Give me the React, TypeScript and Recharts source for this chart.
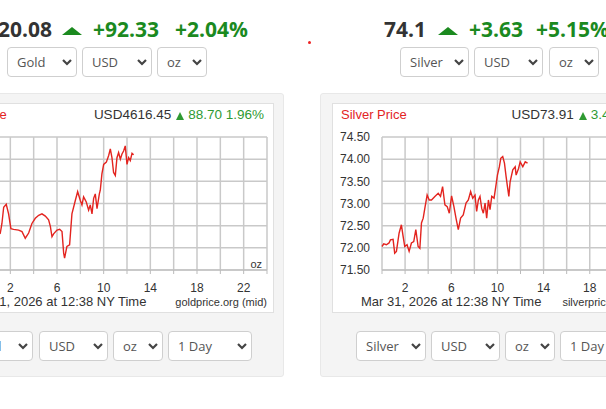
import React from "react";
import { LineChart, Line, XAxis, YAxis, CartesianGrid } from "recharts";

// ── Data (hours since midnight NY, price per oz) ─────────────────────────────
const HOUR_TICKS = [0, 2, 4, 6, 8, 10, 12, 14, 16, 18, 20, 22, 24];

const goldHours = [
  0.5, 1.14, 1.28, 1.43, 1.65, 1.85, 2.05, 2.28, 2.71, 3.0, 3.28, 3.57, 3.85, 4.14, 4.43, 4.71,
  5.0, 5.28, 5.43, 5.57, 5.71, 6.0, 6.23, 6.43, 6.57, 6.65, 6.85, 7.08, 7.28, 7.57, 7.77, 8.0,
  8.14, 8.28, 8.51, 8.71, 8.85, 9.0, 9.14, 9.28, 9.43, 9.63, 9.71, 9.85, 10.0, 10.23, 10.43,
  10.57, 10.71, 10.85, 11.0, 11.14, 11.28, 11.43, 11.57, 11.71, 11.85, 12.0, 12.14, 12.28, 12.43, 12.57,
];
const goldPrices = [
  4518, 4510, 4523, 4545, 4549, 4536, 4516, 4515, 4514, 4512, 4503, 4510, 4523, 4530, 4534, 4536,
  4533, 4528, 4519, 4505, 4509, 4514, 4515, 4512, 4483, 4476, 4492, 4494, 4536, 4554, 4566, 4554,
  4548, 4559, 4552, 4541, 4548, 4536, 4557, 4563, 4543, 4563, 4568, 4590, 4603, 4606, 4615,
  4624, 4612, 4592, 4588, 4612, 4619, 4610, 4617, 4621, 4628, 4603, 4612, 4608, 4618, 4616,
];
const goldTicks = [4460, 4490, 4520, 4550, 4580, 4610, 4640];

const silverHours = [
  0, 0.15, 0.38, 0.61, 0.73, 0.96, 1.1, 1.25, 1.48, 1.68, 1.83, 1.97, 2.17, 2.35, 2.55, 2.75,
  2.93, 3.13, 3.28, 3.42, 3.57, 3.71, 3.91, 4.09, 4.29, 4.58, 4.87, 5.07, 5.25, 5.45, 5.65, 5.83,
  6.03, 6.23, 6.41, 6.61, 6.81, 7.04, 7.28, 7.48, 7.68, 7.86, 8.06, 8.2, 8.35, 8.49, 8.64, 8.78,
  8.93, 9.07, 9.22, 9.36, 9.51, 9.71, 9.88, 10.0, 10.17, 10.29, 10.46, 10.61, 10.75, 10.87, 10.99,
  11.1, 11.33, 11.54, 11.62, 11.83, 11.97, 12.2, 12.41, 12.61,
];
const silverPrices = [
  72.03, 72.09, 72.07, 72.11, 72.18, 72.19, 71.88, 71.92, 72.33, 72.52, 72.26, 72.03, 72.07, 71.92, 72.11, 72.14,
  72.41, 72.03, 71.99, 72.56, 72.67, 72.89, 73.19, 73.08, 73.08, 73.16, 73.23, 73.16, 73.38, 72.97, 72.93, 72.78,
  73.17, 72.93, 72.67, 72.41, 72.67, 72.74, 73.01, 73.08, 73.27, 73.12, 73.19, 72.82, 73.08, 73.16, 72.89, 72.78,
  73.01, 72.67, 73.08, 72.86, 73.16, 73.12, 73.42, 73.64, 73.83, 74.02, 74.06, 73.91, 73.61, 73.38, 73.16,
  73.49, 73.76, 73.83, 73.64, 73.79, 73.94, 73.83, 73.94, 73.91,
];
const silverTicks = [71.5, 72, 72.5, 73, 73.5, 74, 74.5];

const DATE_TEXT = "Mar 31, 2026 at 12:38 NY Time";

// ── Styling ──────────────────────────────────────────────────────────────────
const RED = "#e3241f";
const GREEN_BIG = "#1b8a1f";
const GREEN = "#2f9a32";
const GRID = "#c9c9c9";
const CHART_FONT = "'Liberation Sans', Arial, sans-serif";
const PAGE_FONT = "'Open Sans', sans-serif";

function Chevron() {
  return (
    <svg style={{ position: "absolute", right: 4, top: 11 }} width={10} height={7}>
      <polyline points="1,1 5,5 9,1" fill="none" stroke="#444" strokeWidth={2.2} />
    </svg>
  );
}

function Select({ left, top, width, label }: { left: number; top: number; width: number; label: string }) {
  return (
    <div
      style={{
        position: "absolute", left, top, width, height: 30, boxSizing: "border-box",
        border: "1px solid #cfcfcf", borderRadius: 4, background: "#fff",
        fontFamily: PAGE_FONT, fontSize: 13, color: "#555", lineHeight: "28px", paddingLeft: 9,
      }}
    >
      {label}
      <Chevron />
    </div>
  );
}

// CSS triangle, absolutely placed
function Tri({ left, top, w, h, color }: { left: number; top: number; w: number; h: number; color: string }) {
  return (
    <div
      style={{
        position: "absolute", left, top, width: 0, height: 0,
        borderLeft: `${w / 2}px solid transparent`, borderRight: `${w / 2}px solid transparent`,
        borderBottom: `${h}px solid ${color}`,
      }}
    />
  );
}

// same triangle, but sitting in the text flow on the baseline
function InlineTri() {
  return (
    <span
      style={{
        display: "inline-block", width: 0, height: 0, margin: "0 4px 0 5px", verticalAlign: "-1px",
        borderLeft: "4.5px solid transparent", borderRight: "4.5px solid transparent",
        borderBottom: `8px solid ${GREEN}`,
      }}
    />
  );
}

const big: React.CSSProperties = {
  position: "absolute", top: 19, fontFamily: PAGE_FONT, fontWeight: 700,
  fontSize: 21, lineHeight: "21px", whiteSpace: "nowrap",
};

interface ChartProps {
  left: number;
  plotWidth: number;
  title: string;
  quote: string;
  change: string;
  source: string;
  hours: number[];
  prices: number[];
  ticks: number[];
  fmt: (v: number) => string;
}

function MetalChart({ left, plotWidth, title, quote, change, source, hours, prices, ticks, fmt }: ChartProps) {
  const data = hours.map((h, i) => ({ h, p: prices[i] }));
  const axisW = 49;
  const boxW = 337;
  const chartW = axisW + plotWidth + 4;
  const tickStyle = { fill: "#333", fontSize: 12, fontFamily: CHART_FONT };
  return (
    <div
      style={{
        position: "absolute", left, top: 103, width: boxW, height: 210, boxSizing: "border-box",
        background: "#fff", border: "1px solid #e0e0e0",
      }}
    >
      <div style={{ position: "absolute", left: 8, top: 3, fontFamily: CHART_FONT, fontSize: 13, lineHeight: "16px", color: RED }}>
        {title}
      </div>
      <div style={{ position: "absolute", right: 9, top: 3, fontFamily: CHART_FONT, fontSize: 13.5, lineHeight: "16px", color: "#333", whiteSpace: "nowrap" }}>
        {quote}
        <InlineTri />
        <span style={{ color: GREEN }}>{change}</span>
      </div>

      <div style={{ position: "absolute", left: 0, top: 0 }}>
        <LineChart width={chartW} height={189} data={data} margin={{ top: 33, right: 4, bottom: 0, left: 0 }}>
          <CartesianGrid stroke={GRID} strokeWidth={1.5} />
          <XAxis
            dataKey="h"
            type="number"
            domain={[0, 24]}
            ticks={HOUR_TICKS}
            interval={0}
            tickFormatter={(v: number) => ((v - 2) % 4 === 0 ? String(v) : "")}
            height={23}
            tickSize={4}
            tickMargin={9}
            stroke="#bbb"
            tick={tickStyle}
          />
          <YAxis
            type="number"
            domain={[ticks[0], ticks[ticks.length - 1]]}
            ticks={ticks}
            interval={0}
            tickFormatter={fmt}
            width={axisW}
            axisLine={false}
            tickLine={false}
            tickSize={0}
            tickMargin={12}
            tick={tickStyle}
          />
          <Line
            type="linear"
            dataKey="p"
            stroke={RED}
            strokeWidth={1.4}
            dot={false}
            isAnimationActive={false}
          />
        </LineChart>
      </div>

      <div style={{ position: "absolute", left: axisW + plotWidth - 40, width: 35, textAlign: "right", top: 153, fontFamily: CHART_FONT, fontSize: 11, lineHeight: "14px", color: "#333" }}>
        oz
      </div>
      <div style={{ position: "absolute", left: axisW - 21, top: 190, fontFamily: CHART_FONT, fontSize: 13, lineHeight: "16px", color: "#333", whiteSpace: "nowrap" }}>
        {DATE_TEXT}
      </div>
      <div style={{ position: "absolute", left: axisW + plotWidth - 200, width: 200, textAlign: "right", top: 191, fontFamily: CHART_FONT, fontSize: 11, lineHeight: "14px", color: "#333", whiteSpace: "nowrap" }}>
        {source}
      </div>
    </div>
  );
}

export default function App() {
  return (
    <div style={{ position: "fixed", left: 0, top: 0, width: 606, height: 409, overflow: "hidden", background: "#fff" }}>
      {/* Gold header */}
      <span style={{ ...big, right: 554, color: "#333" }}>4620.08</span>
      <Tri left={62} top={27} w={20} h={8} color={GREEN_BIG} />
      <span style={{ ...big, left: 93, color: GREEN_BIG }}>+92.33</span>
      <span style={{ ...big, left: 175, color: GREEN_BIG }}>+2.04%</span>
      <Select left={7} top={47} width={70} label="Gold" />
      <Select left={82} top={47} width={70} label="USD" />
      <Select left={157} top={47} width={50} label="oz" />

      <div style={{ position: "absolute", left: 308, top: 41, width: 3, height: 3, borderRadius: 2, background: "#e22" }} />

      {/* Silver header */}
      <span style={{ ...big, left: 384, color: "#333" }}>74.1</span>
      <Tri left={438} top={27} w={20} h={8} color={GREEN_BIG} />
      <span style={{ ...big, left: 469, color: GREEN_BIG }}>+3.63</span>
      <span style={{ ...big, left: 536, color: GREEN_BIG }}>+5.15%</span>
      <Select left={400} top={47} width={69} label="Silver" />
      <Select left={474} top={47} width={69} label="USD" />
      <Select left={549} top={47} width={50} label="oz" />

      {/* Panels */}
      <div style={{ position: "absolute", left: -20, top: 93, width: 304, height: 284, boxSizing: "border-box", background: "#f4f4f4", border: "1px solid #e8e8e8", borderRadius: 3 }} />
      <div style={{ position: "absolute", left: 320, top: 93, width: 320, height: 284, boxSizing: "border-box", background: "#f4f4f4", border: "1px solid #e8e8e8", borderRadius: 3 }} />

      <MetalChart
        left={-63}
        plotWidth={280}
        title="Gold Price"
        quote="USD4616.45"
        change="88.70 1.96%"
        source="goldprice.org (mid)"
        hours={goldHours}
        prices={goldPrices}
        ticks={goldTicks}
        fmt={(v) => v.toFixed(0)}
      />
      <MetalChart
        left={332}
        plotWidth={277}
        title="Silver Price"
        quote="USD73.91"
        change="3.44 4.88%"
        source="silverprice.org (mid)"
        hours={silverHours}
        prices={silverPrices}
        ticks={silverTicks}
        fmt={(v) => v.toFixed(2)}
      />

      {/* Bottom selectors */}
      <Select left={-37} top={331} width={70} label="Gold" />
      <Select left={39} top={331} width={69} label="USD" />
      <Select left={113} top={331} width={50} label="oz" />
      <Select left={168} top={331} width={84} label="1 Day" />
      <Select left={356} top={331} width={70} label="Silver" />
      <Select left={431} top={331} width={69} label="USD" />
      <Select left={505} top={331} width={50} label="oz" />
      <Select left={560} top={331} width={84} label="1 Day" />
    </div>
  );
}
